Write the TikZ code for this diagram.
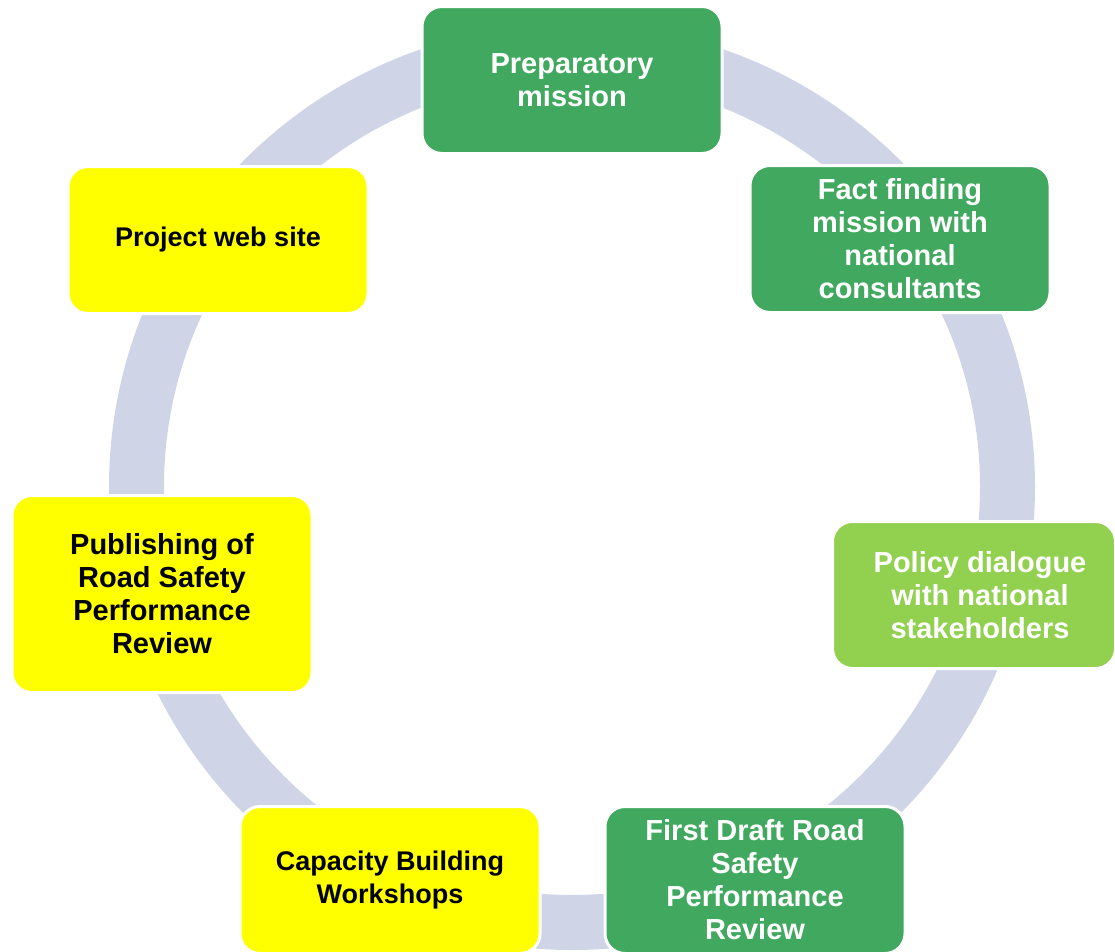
\documentclass[tikz,border=0pt]{standalone}
\usepackage{fontspec}
\setmainfont{Liberation Sans}
\usepackage{tikz}

\definecolor{ringblue}{HTML}{CFD5E6}
\definecolor{stepgreen}{HTML}{41A85F}
\definecolor{lightgreen}{HTML}{92D050}
\definecolor{stepyellow}{HTML}{FFFF00}

\begin{document}
\begin{tikzpicture}[x=1pt,y=-1pt,
    box/.style={draw=white,line width=3pt,rounded corners=20pt,align=center,
      minimum width=300pt,minimum height=147pt,inner sep=0pt,
      font=\fontsize{29}{33}\selectfont\bfseries},
    greenbox/.style={box,fill=stepgreen,text=white},
    limebox/.style={box,fill=lightgreen,text=white},
    yellowbox/.style={box,fill=stepyellow,text=black},
    smalltext/.style={font=\fontsize{27}{33}\selectfont\bfseries}]
      \useasboundingbox (0,0) rectangle (1115,951);
      \clip (0,0) rectangle (1115,951);

      % ring behind the boxes
      \draw[ringblue,line width=55pt] (572,487) circle[radius=435.5];

      \node[greenbox] (prep) at (572,80) {Preparatory\\mission};
      \node[greenbox] (fact) at (900,239) {Fact finding\\mission with\\national\\consultants};
      \node[limebox,minimum width=283pt] (policy) at (974,595) {\hspace*{12pt}Policy dialogue\\\hspace*{12pt}with national\\\hspace*{12pt}stakeholders};
      \node[greenbox] (draft) at (755,880) {First Draft Road\\Safety\\Performance\\Review};
      \node[yellowbox,smalltext] (capacity) at (390,880) {Capacity Building\\Workshops};
      \node[yellowbox,minimum height=197pt] (publish) at (162,594) {Publishing of\\Road Safety\\Performance\\Review};
      \node[yellowbox,smalltext] (website) at (218,240) {Project web site};
    \end{tikzpicture}
\end{document}
